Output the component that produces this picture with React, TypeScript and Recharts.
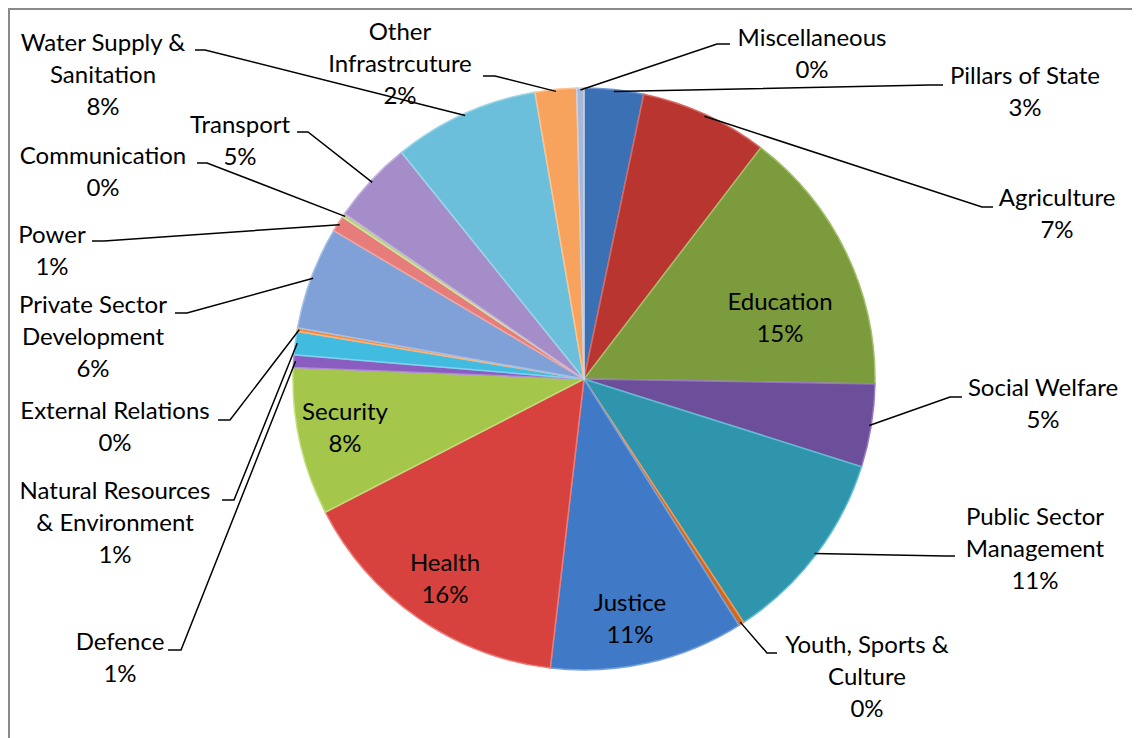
import { PieChart, Pie, Cell } from "recharts"

const categories = [
  "Pillars of State",
  "Agriculture",
  "Education",
  "Social Welfare",
  "Public Sector\nManagement",
  "Youth, Sports &\nCulture",
  "Justice",
  "Health",
  "Security",
  "Defence",
  "Natural Resources\n& Environment",
  "External Relations",
  "Private Sector\nDevelopment",
  "Power",
  "Communication",
  "Transport",
  "Water Supply &\nSanitation",
  "Other\nInfrastrcuture",
  "Miscellaneous",
]

// share of budget
const shares = [3.3, 7.1, 14.9, 4.6, 10.9, 0.3, 10.8, 15.6, 8.2, 0.7, 1.3, 0.2, 5.7, 0.9, 0.2, 4.6, 8.1, 2.3, 0.4]

const colors = [
  "#3c70b5", "#b8362f", "#7c9b3d", "#6c4e9a", "#2e95ad", "#d0691f",
  "#4079c6", "#d8423e", "#a4c64b", "#8a5dc0", "#41bbe0", "#f58a3b",
  "#7fa1d7", "#e67d7a", "#b6d27b", "#a58dc9", "#6cbfda", "#f7a35e",
  "#a9b8d8",
]

// lighter rim for the bevelled look
const rims = [
  "#6d97cf", "#d86a64", "#a3bf6a", "#957ac0", "#62bcd1", "#ee9a5a",
  "#75a2dc", "#ee7a76", "#c3de7b", "#ae8ad8", "#7fd3ee", "#fab57f",
  "#a6c0e6", "#f2a5a2", "#d0e5a4", "#c4b2de", "#9ad6e8", "#fbc493",
  "#c8d3e8",
]

const data = categories.map((name, i) => ({ name, value: shares[i] }))

// label placement in chart coords: text centre (tx, ty), leader elbow (ex, ey), tick end hx
type LabelPos = { tx: number; ty: number; ex?: number; ey?: number; hx?: number }
const labelLayout: LabelPos[] = [
  { tx: 1017, ty: 66, ex: 922, ey: 77, hx: 935 },
  { tx: 1049, ty: 188, ex: 974, ey: 199, hx: 985 },
  { tx: 772, ty: 292 },
  { tx: 1035, ty: 378, ex: 942, ey: 389, hx: 954 },
  { tx: 1027, ty: 507, ex: 937, ey: 548, hx: 947 },
  { tx: 859, ty: 635, ex: 759, ey: 645, hx: 769 },
  { tx: 622, ty: 593 },
  { tx: 437, ty: 553 },
  { tx: 337, ty: 402 },
  { tx: 112, ty: 632, ex: 173, ey: 642, hx: 160 },
  { tx: 107, ty: 481, ex: 226, ey: 492, hx: 214 },
  { tx: 107, ty: 401, ex: 222, ey: 412, hx: 210 },
  { tx: 85, ty: 295, ex: 179, ey: 305, hx: 167 },
  { tx: 44, ty: 225, ex: 96, ey: 233, hx: 84 },
  { tx: 95, ty: 146, ex: 199, ey: 155, hx: 189 },
  { tx: 232, ty: 115, ex: 300, ey: 124, hx: 289 },
  { tx: 95, ty: 33, ex: 197, ey: 42, hx: 187 },
  { tx: 392, ty: 22, ex: 487, ey: 68, hx: 475 },
  { tx: 804, ty: 28, ex: 709, ey: 36, hx: 722 },
]

const RAD = Math.PI / 180
const FONT = "Lato, 'Noto Sans', sans-serif"
const LINE_H = 32

function renderLabel(props: any) {
  const { cx, cy, midAngle, outerRadius, index, percent } = props
  const pos = labelLayout[index]
  if (!pos) return null
  const lines = String(categories[index]).split("\n")
  lines.push(`${Math.round(percent * 100)}%`)
  const px = cx + (outerRadius - 2) * Math.cos(-midAngle * RAD)
  const py = cy + (outerRadius - 2) * Math.sin(-midAngle * RAD)
  return (
    <g>
      {pos.ex !== undefined && (
        <polyline
          points={`${px},${py} ${pos.ex},${pos.ey} ${pos.hx},${pos.ey}`}
          fill="none"
          stroke="#000"
          strokeWidth={1.5}
        />
      )}
      <text
        x={pos.tx}
        y={pos.ty}
        textAnchor="middle"
        dominantBaseline="central"
        fontFamily={FONT}
        fontSize={24}
        fill="#000"
      >
        {lines.map((l, i) => (
          <tspan key={i} x={pos.tx} dy={i === 0 ? 0 : LINE_H}>
            {l}
          </tspan>
        ))}
      </text>
    </g>
  )
}

export default function App() {
  return (
    <div style={{ position: "relative", width: 1132, height: 730, overflow: "hidden", background: "#fff" }}>
      <div
        style={{
          position: "absolute",
          left: 0,
          top: 0,
          width: 1200,
          height: 800,
          border: "2px solid #8a8a8a",
          boxSizing: "border-box",
        }}
      />
      <div style={{ position: "absolute", left: 0, top: 0 }}>
        <PieChart width={1132} height={730}>
          <Pie
            data={data}
            dataKey="value"
            nameKey="name"
            cx={571}
            cy={366}
            outerRadius={291}
            startAngle={90}
            endAngle={-270}
            strokeWidth={1.5}
            label={renderLabel}
            labelLine={false}
            isAnimationActive={false}
          >
            {data.map((d, i) => (
              <Cell key={d.name} fill={colors[i]} stroke={rims[i]} />
            ))}
          </Pie>
        </PieChart>
      </div>
    </div>
  )
}
